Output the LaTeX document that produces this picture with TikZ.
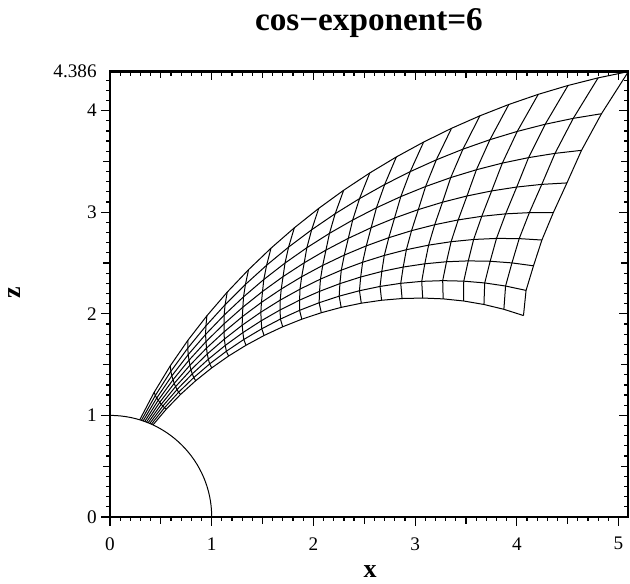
\documentclass[tikz,border=0pt]{standalone}
\usepackage{fontspec}
\setmainfont{Liberation Serif}
\usetikzlibrary{positioning,calc}
\newcommand{\arcstep}{\pgfmathsetmacro\ucur{\ucur-(arcF(\ucur)-\starg)/sqrt(1+3*\ucur*\ucur)}}

\begin{document}
\begin{tikzpicture}[
  x=50.85pt, y=50.8pt,
  declare function={arcF(\u)=0.5*\u*sqrt(1+3*\u*\u)+ln(sqrt(3)*\u+sqrt(1+3*\u*\u))/(2*sqrt(3));},
  meshline/.style={line width=0.5pt, line join=round},
  frameline/.style={line width=1.3pt},
  tickmark/.style={line width=0.6pt},
  ticklabel/.style={inner sep=0pt, font=\fontsize{9.6}{11}\selectfont},
  axislabel/.style={inner sep=0pt, font=\bfseries\fontsize{13}{15}\selectfont},
  titlelabel/.style={inner sep=0pt, font=\bfseries\fontsize{16.6}{19}\selectfont}
]
\useasboundingbox (-55pt,-33pt) rectangle (260pt,258.5pt);

% grid points: field lines r = L sin^2(theta), equal arc length along each
\foreach \j/\te in {0/49.3, 1/50.6, 2/52.1, 3/53.8, 4/55.5, 5/57.3, 6/59.3, 7/61.4, 8/64.0}{
  \pgfmathsetmacro\uzero{cos(17+\j)}
  \pgfmathsetmacro\uend{cos(\te)}
  \pgfmathsetmacro\Lval{1/(1-\uzero*\uzero)}
  \pgfmathsetmacro\Fzero{arcF(\uzero)}
  \pgfmathsetmacro\Fend{arcF(\uend)}
  \foreach \k in {0,...,20}{
    \pgfmathsetmacro\starg{\Fzero-\k/20*(\Fzero-\Fend)}
    \pgfmathsetmacro\ucur{\uzero+\k/20*(\uend-\uzero)}
    \arcstep\arcstep\arcstep\arcstep
    \coordinate (p-\j-\k) at ({\Lval*(1-\ucur*\ucur)*sqrt(1-\ucur*\ucur)},{\Lval*(1-\ucur*\ucur)*\ucur});
  }
}

\foreach \j in {0,...,8}
  \draw[meshline] (p-\j-0) \foreach \k in {1,...,20}{ -- (p-\j-\k)};
\foreach \k in {1,...,20}
  \draw[meshline] (p-0-\k) \foreach \j in {1,...,8}{ -- (p-\j-\k)};

\draw[meshline] (1,0) arc[start angle=0, end angle=90, radius=1];

\foreach \i in {0,...,50}{
  \pgfmathsetmacro\ticklen{ifthenelse(mod(\i,10)==0,4.5,ifthenelse(mod(\i,5)==0,3.3,2.2))}
  \draw[tickmark] (\i/10,0) -- ++(0,-\ticklen pt);
  \draw[tickmark] (\i/10,4.386) -- ++(0,-\ticklen pt);
}
\foreach \i in {0,...,43}{
  \pgfmathsetmacro\ticklen{ifthenelse(mod(\i,10)==0,4.5,ifthenelse(mod(\i,5)==0,3.3,2.2))}
  \draw[tickmark] (0,\i/10) -- ++(-\ticklen pt,0);
  \draw[tickmark] (5.093,\i/10) -- ++(-\ticklen pt,0);
}
\draw[frameline] (0,0) rectangle (5.093,4.386);

\foreach \i in {0,...,5}
  \node[ticklabel, anchor=north, yshift=-10pt] (xt-\i) at (\i,0) {\i};
\foreach \i in {0,...,4}
  \node[ticklabel, anchor=east, xshift=-6.5pt] (zt-\i) at (0,\i) {\i};
\node[ticklabel, anchor=east, xshift=-6.5pt] (zt-top) at (0,4.386) {4.386};

\node[axislabel, yshift=-27.5pt] (xlab) at (2.557,0) {x};
\node[axislabel, rotate=90, xshift=0pt] (zlab) at ([xshift=-47.5pt]0,2.207) {z};
\node[titlelabel, anchor=base, yshift=20.5pt] (title) at (2.546,4.386) {cos−exponent=6};
\end{tikzpicture}
\end{document}
